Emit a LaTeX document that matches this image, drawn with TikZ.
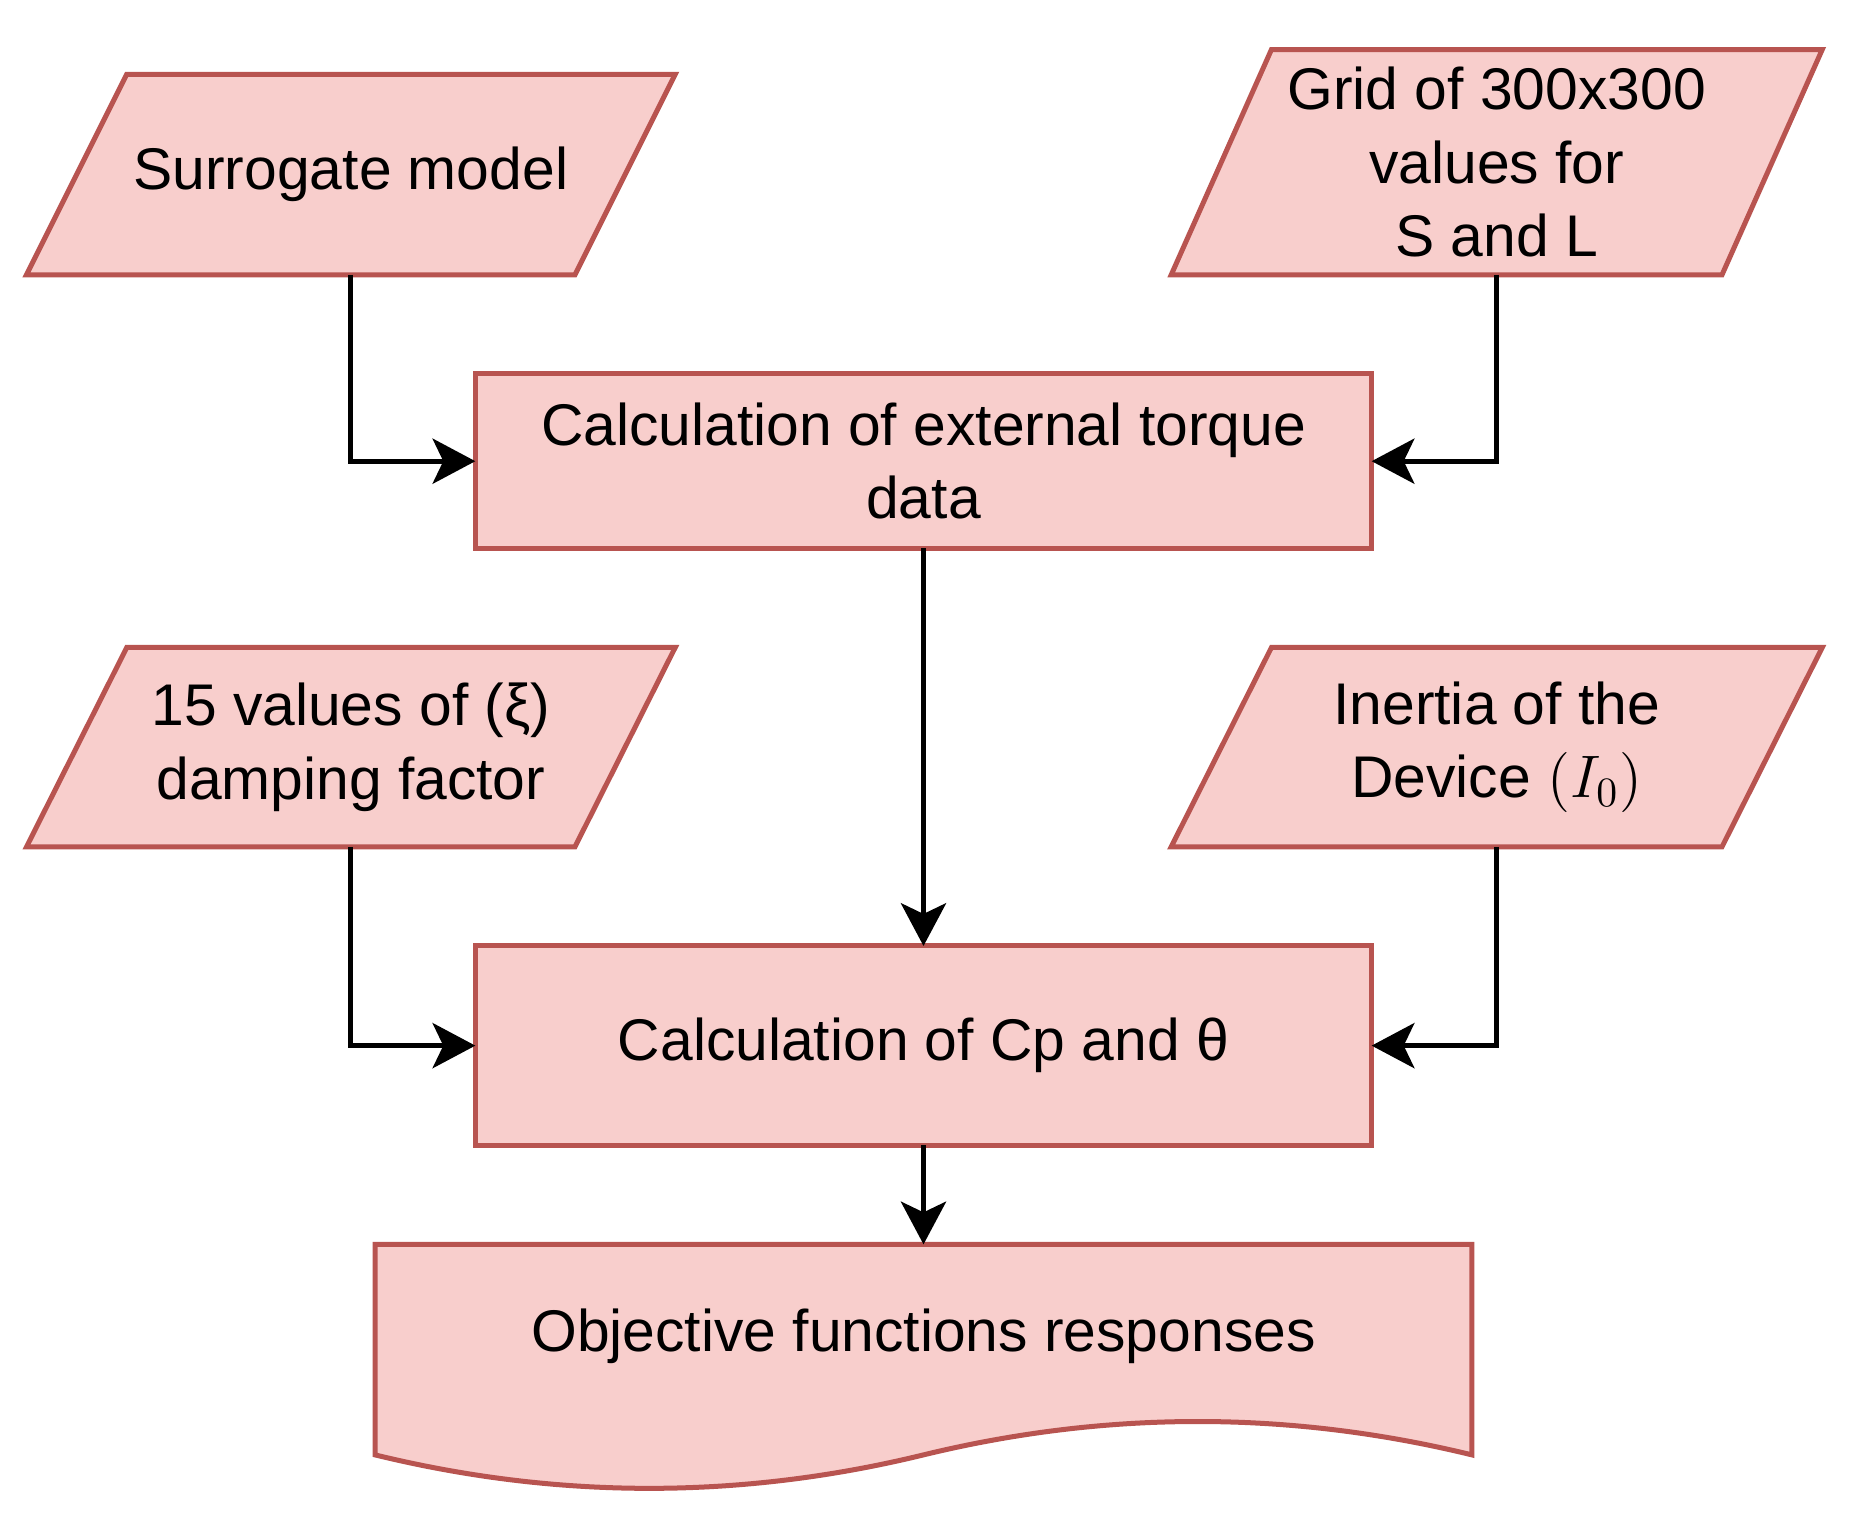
\documentclass[tikz,border=0pt]{standalone}
\usepackage{fontspec}
\setmainfont{Liberation Sans}
\usepackage{tikz}
\usetikzlibrary{arrows.meta}
\usetikzlibrary{calc}
\usetikzlibrary{positioning}
\usetikzlibrary{backgrounds}

\definecolor{boxfill}{HTML}{F8CECC}
\definecolor{boxline}{HTML}{B85450}

\tikzset{
  boxtext/.style={align=center, font=\fontsize{14.1}{17.6}\selectfont,
    inner sep=0pt, outer sep=0pt},
  boxline/.style={draw=boxline, fill=boxfill, line width=1.2pt},
  inp/.style={boxtext, rectangle, minimum width=5.467cm, minimum height=1.69cm},
  proc/.style={boxtext, boxline, rectangle, minimum width=7.554cm},
  flow/.style={line width=1.2pt, -{Stealth[length=3.6mm, width=3.8mm, inset=0.9mm]}}
}

\begin{document}
\begin{tikzpicture}
  \useasboundingbox (0,0) rectangle (15.6,-12.8);

  % inputs
  \node[inp] (surr) at (2.957,-1.471) {Surrogate model};
  \node[inp, minimum width=5.487cm, minimum height=1.899cm] (grid) at (12.614,-1.367)
    {Grid of 300x300\\values for\\S and L};
  \node[inp, minimum height=1.68cm] (damp) at (2.957,-6.297)
    {15 values of (ξ)\\damping factor};
  \node[inp, minimum width=5.487cm, minimum height=1.68cm] (inert) at (12.614,-6.297)
    {Inertia of the\\Device $(I_0)$};

  % process column
  \node[proc, minimum height=1.471cm] (torque) at (7.783,-3.887)
    {Calculation of external torque\\data};
  \node[proc, minimum height=1.68cm, below=3.35cm of torque] (cpth)
    {Calculation of Cp and θ};
  \node[boxtext, minimum width=9.244cm, minimum height=1.55cm, below=0.835cm of cpth] (resp)
    {Objective functions responses};

  % slanted input frames and document outline
  \begin{scope}[on background layer]
    \foreach \n in {surr,grid,damp,inert}
      \draw[boxline] ([xshift=0.845cm]\n.north west) -- (\n.north east)
        -- ([xshift=-0.845cm]\n.south east) -- (\n.south west) -- cycle;
    \coordinate (d) at (resp.north west);
    \draw[boxline] (d) -- ($(d)+(9.244,0)$) -- ($(d)+(9.244,-1.774)$)
      .. controls ($(d)+(7.704,-1.399)$) and ($(d)+(6.163,-1.399)$) .. ($(d)+(4.622,-1.774)$)
      .. controls ($(d)+(3.081,-2.15)$) and ($(d)+(1.541,-2.15)$) .. ($(d)+(0,-1.774)$)
      -- cycle;
  \end{scope}

  \draw[flow] (surr.south) |- (torque.west);
  \draw[flow] (grid.south) |- (torque.east);
  \draw[flow] (torque) -- (cpth);
  \draw[flow] (damp.south) |- (cpth.west);
  \draw[flow] (inert.south) |- (cpth.east);
  \draw[flow] (cpth) -- (resp);
\end{tikzpicture}
\end{document}
